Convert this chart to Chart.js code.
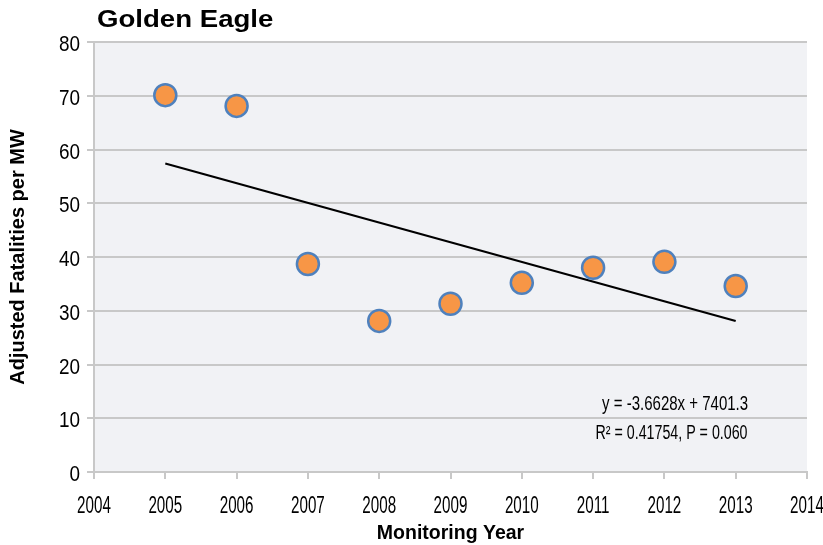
<!DOCTYPE html>
<html lang="en">
<head>
  <meta charset="UTF-8">
  <title>Golden Eagle</title>
  <script src="https://cdn.jsdelivr.net/npm/chart.js"></script>
  <style>
    html, body { margin: 0; padding: 0; background: #fff; }
    #wrap { width: 823px; height: 545px; position: relative; }
  </style>
</head>
<body>
  <div id="wrap"><canvas id="chart-1" width="823" height="545"></canvas></div>

  <script>
    // data
    const years = [2005, 2006, 2007, 2008, 2009, 2010, 2011, 2012, 2013];
    const fatalities = [70.1, 68.1, 38.7, 28.1, 31.3, 35.2, 38.0, 39.1, 34.6];
    const yTicks = [0, 10, 20, 30, 40, 50, 60, 70, 80];
    const xTicks = [2004, 2005, 2006, 2007, 2008, 2009, 2010, 2011, 2012, 2013, 2014];
    // trend line as printed on the chart
    const slope = -3.6628;
    const intercept = 7401.3;
    const trendYears = [2005, 2013];
    const eqLines = ['y = -3.6628x + 7401.3', 'R² = 0.41754, P = 0.060'];

    const sans = "'Liberation Sans', Arial, sans-serif";

    // text in the original is squeezed / stretched sideways, so draw it with a horizontal scale
    function squeezedText(ctx, text, x, y, font, sx, align) {
      ctx.save();
      ctx.translate(x, y);
      ctx.scale(sx, 1);
      ctx.font = font;
      ctx.textAlign = align;
      ctx.textBaseline = 'middle';
      ctx.fillStyle = '#000';
      ctx.fillText(text, 0, 0);
      ctx.restore();
    }

    const extras = {
      id: 'extras',
      beforeDraw(chart) {
        const { ctx, chartArea: a } = chart;
        ctx.save();
        ctx.fillStyle = '#f1f2f5';
        ctx.fillRect(a.left, a.top, a.right - a.left, a.bottom - a.top);
        ctx.restore();
      },
      afterDraw(chart) {
        const { ctx } = chart;
        const x = chart.scales.x, y = chart.scales.y;
        squeezedText(ctx, 'Golden Eagle', 97, 21, 'bold 23px ' + sans, 1.2, 'left');
        yTicks.forEach(v => {
          squeezedText(ctx, String(v), 80, y.getPixelForValue(v) + 3, '22px ' + sans, 0.86, 'right');
        });
        xTicks.forEach(v => {
          squeezedText(ctx, String(v), x.getPixelForValue(v), 507, '23px ' + sans, 0.66, 'center');
        });
        squeezedText(ctx, eqLines[0], x.getPixelForValue(2012.15), y.getPixelForValue(12.6), '19.5px ' + sans, 0.77, 'center');
        squeezedText(ctx, eqLines[1], x.getPixelForValue(2012.1), y.getPixelForValue(7.2), '19.5px ' + sans, 0.73, 'center');
      }
    };

    new Chart(document.getElementById('chart-1'), {
      type: 'scatter',
      data: {
        datasets: [
          {
            label: 'Golden Eagle',
            data: years.map((yr, i) => ({ x: yr, y: fatalities[i] })),
            backgroundColor: '#f79646',
            borderColor: '#4f81bd',
            borderWidth: 2.5,
            pointRadius: 11,
            pointHoverRadius: 11,
            order: 1
          },
          {
            label: 'Trend',
            data: trendYears.map(yr => ({ x: yr, y: slope * yr + intercept })),
            showLine: true,
            borderColor: '#000',
            borderWidth: 2.2,
            pointRadius: 0,
            fill: false,
            order: 2
          }
        ]
      },
      options: {
        responsive: false,
        animation: false,
        layout: { padding: { top: 42, right: 16, left: 0, bottom: 0 } },
        plugins: { legend: { display: false }, tooltip: { enabled: false } },
        scales: {
          x: {
            type: 'linear',
            min: 2004,
            max: 2014,
            afterBuildTicks: s => { s.ticks = xTicks.map(v => ({ value: v })); },
            afterFit: s => { s.height = 73; },
            grid: { drawOnChartArea: false, drawTicks: true, tickLength: 7, color: '#c8c8c8', lineWidth: 2 },
            border: { color: '#c8c8c8', width: 2 },
            ticks: { display: false },
            title: { display: true, text: 'Monitoring Year', color: '#000', font: { family: sans, size: 19.5, weight: 'bold' }, padding: { top: 0, bottom: 0 } }
          },
          y: {
            min: 0,
            max: 80,
            afterBuildTicks: s => { s.ticks = yTicks.map(v => ({ value: v })); },
            afterFit: s => { s.width = 94; },
            grid: { color: '#c8c8c8', lineWidth: 2, tickLength: 7 },
            border: { color: '#c8c8c8', width: 2 },
            ticks: { display: false },
            title: { display: true, text: 'Adjusted Fatalities per MW', color: '#000', font: { family: sans, size: 20, weight: 'bold' }, padding: { top: 6, bottom: 0 } }
          }
        }
      },
      plugins: [extras]
    });
  </script>
</body>
</html>
